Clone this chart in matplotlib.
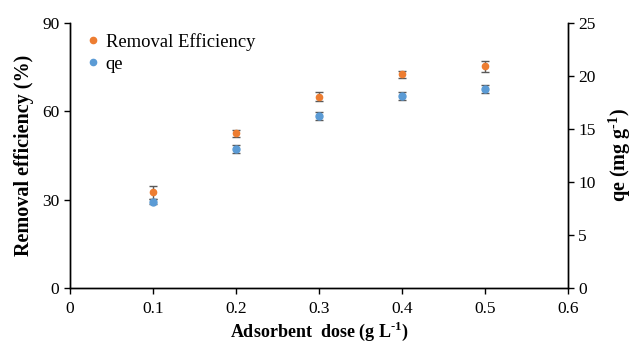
import matplotlib
matplotlib.use("Agg")
from matplotlib import pyplot as plt
from matplotlib.lines import Line2D

plt.rcParams['font.family'] = ['Liberation Serif', 'DejaVu Serif']
plt.rcParams['mathtext.fontset'] = 'custom'
plt.rcParams['mathtext.rm'] = 'Liberation Serif'
plt.rcParams['mathtext.bf'] = 'Liberation Serif:bold'

dose = [0.1, 0.2, 0.3, 0.4, 0.5]
removal = [32.5, 52.5, 65.0, 72.6, 75.2]
removal_err = [2.2, 1.3, 1.5, 1.2, 1.7]
qe = [8.15, 13.1, 16.2, 18.1, 18.75]
qe_err = [0.25, 0.38, 0.4, 0.38, 0.38]

orange = '#ED7D31'
blue = '#5B9BD5'

fig = plt.figure(figsize=(6.35, 3.47), dpi=100)
ax = fig.add_axes([0.110, 0.170, 0.784, 0.764])
ax2 = ax.twinx()

ax.errorbar(dose, removal, yerr=removal_err, fmt='o', color=orange, ms=4.5,
            ecolor='#595959', elinewidth=1, capsize=3, capthick=1,
            label='Removal Efficiency', zorder=3)
ax2.errorbar(dose, qe, yerr=qe_err, fmt='o', color=blue, ms=5,
             ecolor='#595959', elinewidth=1, capsize=3, capthick=1,
             label='qe', zorder=3)

ax.set_xlim(0, 0.6)
ax.set_ylim(0, 90)
ax2.set_ylim(0, 25)
ax.set_xticks([0, 0.1, 0.2, 0.3, 0.4, 0.5, 0.6])
ax.set_xticklabels(['0', '0.1', '0.2', '0.3', '0.4', '0.5', '0.6'])
ax.set_yticks([0, 30, 60, 90])
ax2.set_yticks([0, 5, 10, 15, 20, 25])

for a in (ax, ax2):
    a.spines['top'].set_visible(False)
    a.tick_params(labelsize=12.5, direction='out', length=4, width=1, colors='black')
    for s in a.spines.values():
        s.set_linewidth(1)
ax.tick_params(axis='x', pad=5)

ax.set_xlabel('Adsorbent  dose (g L$^{\\text{-}\\mathbf{1}}$)', fontsize=13,
              fontweight='bold', labelpad=2)
ax.set_ylabel('Removal efficiency (%)', fontsize=14.5, fontweight='bold', labelpad=6)
ax2.set_ylabel('qe (mg g$^{\\text{-}\\mathbf{1}}$)', fontsize=14.5, fontweight='bold',
               labelpad=8)

l1 = ax.get_legend_handles_labels()[1]
l2 = ax2.get_legend_handles_labels()[1]
handles = [Line2D([], [], ls='', marker='o', color=orange, ms=4.5),
           Line2D([], [], ls='', marker='o', color=blue, ms=4.5)]
ax.legend(handles, l1 + l2, loc='upper left', bbox_to_anchor=(0.02, 0.99),
          frameon=False, fontsize=13.4, handlelength=0.6, handletextpad=0.4,
          labelspacing=0.25, borderaxespad=0)

fig.savefig('out.png', dpi=100)
